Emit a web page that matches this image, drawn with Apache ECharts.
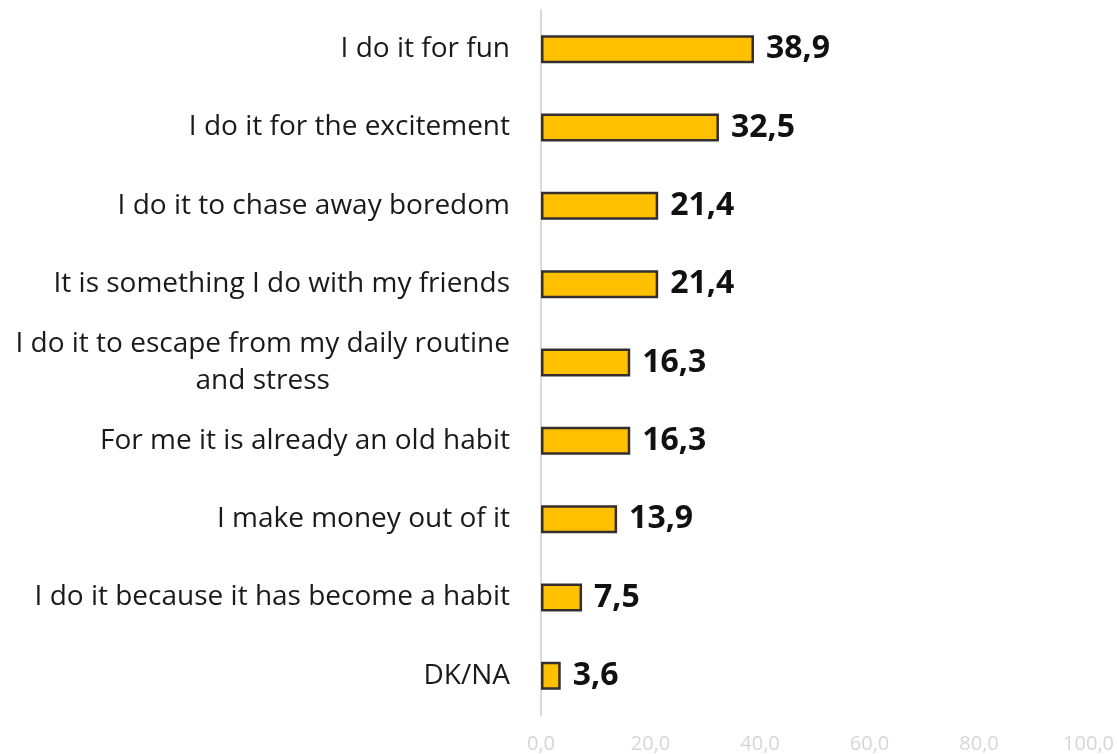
<!DOCTYPE html>
<html>
<head>
<meta charset="utf-8">
<script src="https://cdn.jsdelivr.net/npm/echarts@6/dist/echarts.min.js"></script>
<style>
  html, body { margin: 0; padding: 0; background: #fff; }
  #chart { width: 1117px; height: 754px; }
</style>
</head>
<body>
<div id="chart"></div>
<script>
// reasons, top to bottom
const categories = [
  "I do it for fun",
  "I do it for the excitement",
  "I do it to chase away boredom",
  "It is something I do with my friends",
  "I do it to escape from my daily routine\nand stress",
  "For me it is already an old habit",
  "I make money out of it",
  "I do it because it has become a habit",
  "DK/NA",
];
const values = [38.9, 32.5, 21.4, 21.4, 16.3, 16.3, 13.9, 7.5, 3.6];
const axisTicks = [0, 20, 40, 60, 80, 100];

const fmt = (v) => Number(v).toFixed(1).replace(".", ",");

const chart = echarts.init(document.getElementById("chart"));

chart.setOption({
  animation: false,
  textStyle: { fontFamily: "Open Sans" },
  grid: { left: 541, right: 25, top: 10, bottom: 39, containLabel: false },
  xAxis: {
    type: "value",
    min: axisTicks[0],
    max: axisTicks[axisTicks.length - 1],
    interval: 20,
    axisLine: { show: false },
    axisTick: { show: false },
    splitLine: { show: false },
    axisLabel: {
      margin: 19,
      color: "#d6d6d6",
      fontSize: 20,
      fontFamily: "Open Sans",
      formatter: (v) => fmt(v),
    },
  },
  yAxis: {
    type: "category",
    inverse: true,
    data: categories,
    axisLine: { show: true, lineStyle: { color: "#d9d9d9", width: 2 } },
    axisTick: { show: false },
    axisLabel: {
      margin: 31,
      color: "#1a1a1a",
      fontSize: 28,
      fontFamily: "Open Sans",
      lineHeight: 37,
      formatter: (v) => v.split("\n").map((s) => "{c|" + s + "}").join("\n"),
      rich: {
        c: { align: "center", fontSize: 28, lineHeight: 37, color: "#1a1a1a", fontFamily: "Open Sans" },
      },
    },
  },
  series: [
    {
      type: "bar",
      data: values,
      barWidth: 28,
      itemStyle: { color: "#ffc000", borderColor: "#352e2e", borderWidth: 2.5 },
      label: {
        show: true,
        position: "right",
        distance: 12,
        color: "#111",
        fontSize: 32,
        fontWeight: "bold",
        fontFamily: "Open Sans",
        formatter: (p) => fmt(p.value),
      },
    },
  ],
});
</script>
</body>
</html>
